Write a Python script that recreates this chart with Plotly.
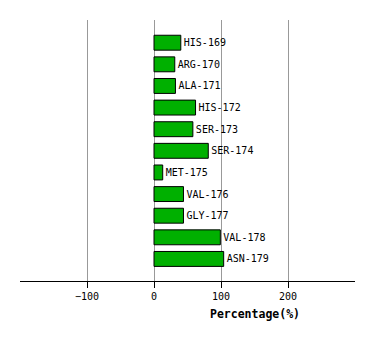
import plotly.graph_objects as go

residues = ["HIS-169", "ARG-170", "ALA-171", "HIS-172", "SER-173", "SER-174",
            "MET-175", "VAL-176", "GLY-177", "VAL-178", "ASN-179"]
percent = [40, 31, 32, 62, 58, 81, 13, 44, 44, 99, 104]
tick_vals = [-100, 0, 100, 200]

positions = list(range(len(residues)))

fig = go.Figure()
fig.add_trace(go.Bar(
    x=percent, y=positions, orientation="h",
    width=0.69,
    marker=dict(color="#00b000", line=dict(color="black", width=1)),
    text=residues, textposition="outside", cliponaxis=False,
    textfont=dict(family="DejaVu Sans Mono", size=10, color="black"),
    hoverinfo="skip",
))

fig.update_layout(
    width=374, height=340,
    margin=dict(l=20, r=19, t=20, b=59),
    plot_bgcolor="white", paper_bgcolor="white",
    showlegend=False,
    xaxis=dict(
        range=[-200, 300], tickvals=tick_vals,
        showgrid=True, gridcolor="#999999", gridwidth=1,
        zeroline=False,
        showline=True, linecolor="black", linewidth=1,
        ticks="outside", ticklen=6, tickcolor="black",
        tickfont=dict(family="DejaVu Sans Mono", size=10, color="black"),
        fixedrange=True,
    ),
    yaxis=dict(
        range=[len(residues) - 1 + 1.02, -1.05],
        showticklabels=False, showgrid=False, zeroline=False,
        showline=False, ticks="", fixedrange=True,
    ),
    annotations=[dict(
        text="<b>Percentage(%)</b>", xref="paper", yref="paper",
        x=(255 - 20) / 335, y=-(314 - 281) / 261,
        xanchor="center", yanchor="middle", showarrow=False,
        font=dict(family="DejaVu Sans Mono", size=11.5, color="black"),
    )],
)

fig.write_html("out.html")
